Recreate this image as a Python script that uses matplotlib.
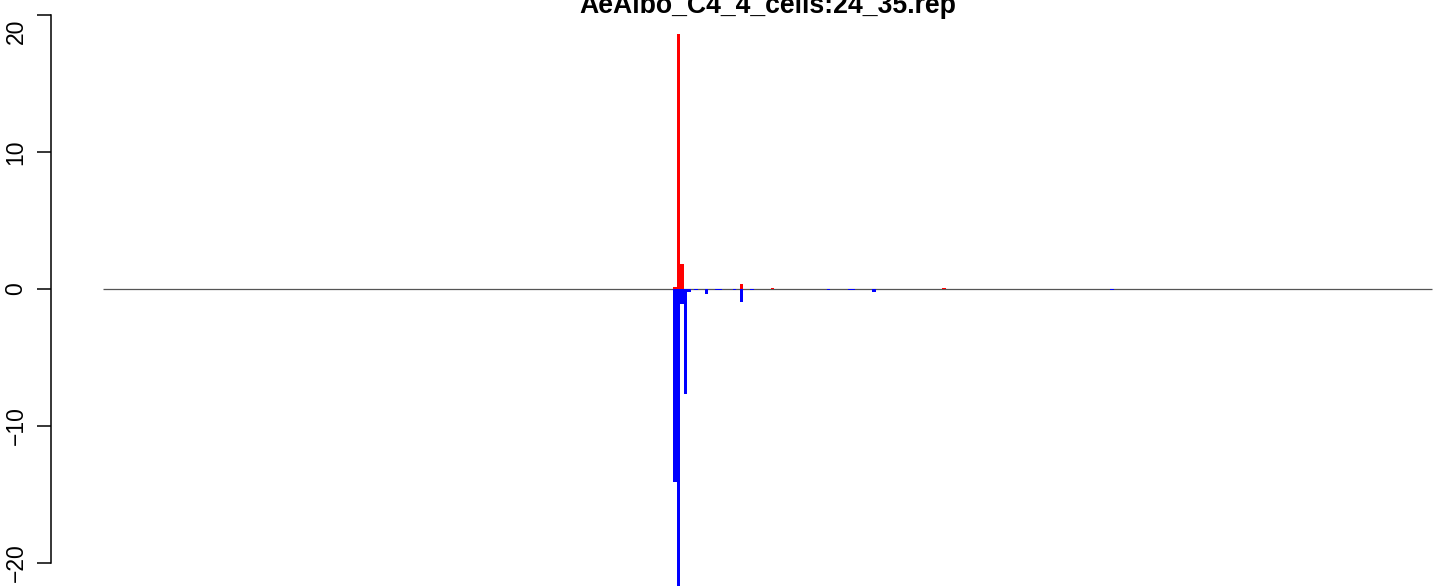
import matplotlib.pyplot as plt
import matplotlib.transforms as mtransforms

plt.rcParams['font.family'] = ['Liberation Sans', 'DejaVu Sans']

# Bin index along the region (0..380) and signal per strand
n_bins = 380
pos_bins = [163, 164, 165, 182, 191, 240]
pos_values = [0.15, 18.6, 1.8, 0.37, 0.08, 0.08]

neg_bins = [163, 164, 165, 166, 167, 169, 172, 175, 176, 180, 182, 185,
            207, 213, 214, 220, 288]
neg_values = [-14.1, -21.7, -1.07, -7.7, -0.2, -0.1, -0.4, -0.08, -0.08,
              -0.1, -0.93, -0.06, -0.06, -0.06, -0.06, -0.2, -0.06]

y_ticks = [-20, -10, 0, 10, 20]
title = 'AeAlbo_C4_4_cells:24_35.rep'

W, H = 1452, 586
fig = plt.figure(figsize=(W / 100, H / 100), dpi=100)
ax = fig.add_axes([51 / W, 0, (W - 51) / W, 1])

# pixel mapping: bin 0 at x=103px, bin n_bins at x=1432px
ppu = (1432 - 103) / n_bins
ax.set_xlim(-(103 - 51) / ppu, (W - 103) / ppu)
ypu = 13.7
ax.set_ylim(-(H - 289) / ypu, 289 / ypu)

ax.hlines(0, 0, n_bins, color='#555555', linewidth=0.9, zorder=1)
ax.bar(pos_bins, pos_values, width=1, align='edge', color='#ff0000',
       linewidth=0, zorder=2)
ax.bar(neg_bins, neg_values, width=1, align='edge', color='#0000ff',
       linewidth=0, zorder=2)

for s in ['top', 'right', 'bottom']:
    ax.spines[s].set_visible(False)
ax.spines['left'].set_bounds(-20, 20)
ax.spines['left'].set_linewidth(1.1)
ax.set_xticks([])
ax.set_yticks(y_ticks)
ax.set_yticklabels([str(t).replace('-', '\u2212') for t in y_ticks],
                   rotation=90, va='center', fontsize=16.5)
ax.tick_params(axis='y', length=10, width=1.1, pad=7)

# top label sits a little below its tick in the reference
top_lab = ax.get_yticklabels()[-1]
top_lab.set_transform(top_lab.get_transform() +
                      mtransforms.ScaledTranslation(0, -0.16, fig.dpi_scale_trans))

fig.text(767.5 / W, (H - 13) / H, title, ha='center', va='baseline',
         fontsize=19.2, fontweight='bold')

fig.savefig('out.png', dpi=100)
